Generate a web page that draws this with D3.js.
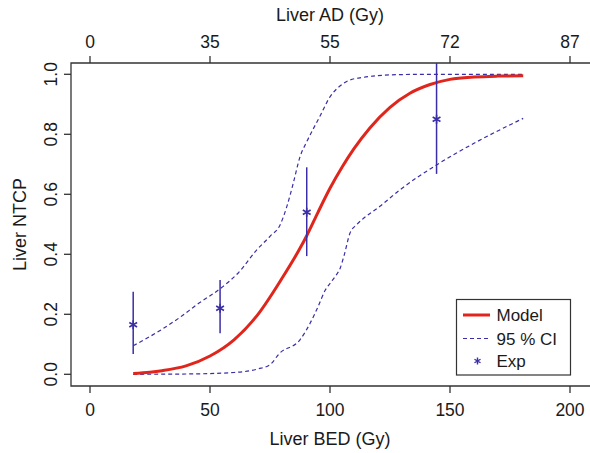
<!DOCTYPE html>
<html>
<head>
<meta charset="utf-8">
<script src="https://cdn.jsdelivr.net/npm/d3@7"></script>
<style>
  body { margin: 0; background: #fff; }
  text { font-family: "Liberation Sans", Arial, Helvetica, sans-serif; fill: #1a1a1a; }
</style>
</head>
<body>
<div id="chart"></div>
<script>
// model NTCP curve
const modelBED = [18, 25, 30, 40, 50, 60, 70, 80, 87.5, 90.3, 95, 100, 105, 110, 116.7, 125, 133.3, 141.7, 150, 160, 170, 180.5];
const modelNTCP = [0.003, 0.007, 0.012, 0.028, 0.061, 0.115, 0.2, 0.32, 0.42, 0.462, 0.54, 0.62, 0.69, 0.752, 0.822, 0.89, 0.937, 0.966, 0.983, 0.991, 0.994, 0.995];

// 95% CI bounds
const upperBED = [18, 30, 37.5, 45, 55, 62, 69.4, 75, 79.2, 82, 84.7, 87.5, 90.3, 95.8, 100, 104, 108, 114, 125, 140, 180.5];
const upperNTCP = [0.095, 0.15, 0.19, 0.235, 0.29, 0.34, 0.414, 0.46, 0.498, 0.559, 0.637, 0.725, 0.775, 0.86, 0.925, 0.96, 0.98, 0.99, 0.998, 1.0, 1.0];
const lowerBED = [18, 40, 60, 70, 75, 79, 87.5, 91.7, 95, 98, 100.7, 102.5, 104.2, 106, 108.3, 111, 114, 120.8, 129, 144.4, 160, 180.5];
const lowerNTCP = [0.0, 0.001, 0.006, 0.018, 0.032, 0.07, 0.115, 0.17, 0.225, 0.28, 0.31, 0.33, 0.353, 0.40, 0.47, 0.498, 0.52, 0.56, 0.614, 0.698, 0.77, 0.853];

// experimental points with error bars
const expBED = [18, 54.2, 90.3, 144.4];
const expNTCP = [0.165, 0.22, 0.54, 0.85];
const expLow = [0.068, 0.137, 0.394, 0.668];
const expHigh = [0.275, 0.314, 0.69, 1.05];

// axes
const bedTicks = [0, 50, 100, 150, 200];
const adLabels = ["0", "35", "55", "72", "87"];
const ntcpTicks = [0, 0.2, 0.4, 0.6, 0.8, 1.0];

const width = 590, height = 453;
const frame = {left: 71, top: 63, bottom: 386, right: 600};
const red = "#e0261c", blue = "#3a2ea6", axisCol = "#333";

const svg = d3.select("#chart").append("svg")
    .attr("width", width).attr("height", height);

const x = d3.scaleLinear().domain([0, 200]).range([90, 570]);
const y = d3.scaleLinear().domain([0, 1]).range([374.3, 74.3]);

svg.append("defs").append("clipPath").attr("id", "clip")
    .append("rect").attr("x", frame.left).attr("y", frame.top)
    .attr("width", frame.right - frame.left).attr("height", frame.bottom - frame.top);

// frame (open on the right, cut by the image)
svg.append("path")
    .attr("d", `M${frame.right},${frame.top}H${frame.left}V${frame.bottom}H${frame.right}`)
    .attr("fill", "none").attr("stroke", axisCol).attr("stroke-width", 1.3);

// bottom axis
const xb = svg.append("g");
bedTicks.forEach(t => {
    xb.append("line").attr("x1", x(t)).attr("x2", x(t)).attr("y1", frame.bottom).attr("y2", frame.bottom + 7)
        .attr("stroke", axisCol).attr("stroke-width", 1.3);
    xb.append("text").attr("x", x(t)).attr("y", 415.5).attr("text-anchor", "middle")
        .attr("font-size", 17.5).text(t);
});
svg.append("text").attr("x", x(100)).attr("y", 445).attr("text-anchor", "middle")
    .attr("font-size", 18).text("Liver BED (Gy)");

// top axis (AD labels at the BED tick positions)
const xt = svg.append("g");
bedTicks.forEach((t, i) => {
    xt.append("line").attr("x1", x(t)).attr("x2", x(t)).attr("y1", frame.top).attr("y2", frame.top - 7)
        .attr("stroke", axisCol).attr("stroke-width", 1.3);
    xt.append("text").attr("x", x(t)).attr("y", 48).attr("text-anchor", "middle")
        .attr("font-size", 17.5).text(adLabels[i]);
});
svg.append("text").attr("x", x(100)).attr("y", 21).attr("text-anchor", "middle")
    .attr("font-size", 18).text("Liver AD (Gy)");

// left axis
const yl = svg.append("g");
ntcpTicks.forEach(t => {
    yl.append("line").attr("x1", frame.left).attr("x2", frame.left - 7).attr("y1", y(t)).attr("y2", y(t))
        .attr("stroke", axisCol).attr("stroke-width", 1.3);
    yl.append("text").attr("transform", `translate(56.5,${y(t)}) rotate(-90)`)
        .attr("text-anchor", "middle").attr("font-size", 17.5).text(t.toFixed(1));
});
svg.append("text").attr("transform", `translate(26,${(frame.top + frame.bottom) / 2}) rotate(-90)`)
    .attr("text-anchor", "middle").attr("font-size", 18).text("Liver NTCP");

// curves
const plot = svg.append("g").attr("clip-path", "url(#clip)");
const line = d3.line().x(d => x(d[0])).y(d => y(d[1])).curve(d3.curveMonotoneX);

plot.append("path").datum(d3.zip(upperBED, upperNTCP)).attr("d", line)
    .attr("fill", "none").attr("stroke", blue).attr("stroke-width", 1.2).attr("stroke-dasharray", "4,3");
plot.append("path").datum(d3.zip(lowerBED, lowerNTCP)).attr("d", line)
    .attr("fill", "none").attr("stroke", blue).attr("stroke-width", 1.2).attr("stroke-dasharray", "4,3");
plot.append("path").datum(d3.zip(modelBED, modelNTCP)).attr("d", line)
    .attr("fill", "none").attr("stroke", red).attr("stroke-width", 3);

// error bars
plot.selectAll(".err").data(expBED).join("line").attr("class", "err")
    .attr("x1", d => x(d)).attr("x2", d => x(d))
    .attr("y1", (d, i) => y(expLow[i])).attr("y2", (d, i) => y(expHigh[i]))
    .attr("stroke", blue).attr("stroke-width", 1.5);

function star(cx, cy, r) {
    let p = "";
    for (let k = 0; k < 3; k++) {
        const a = Math.PI / 2 + k * Math.PI / 3;
        const dx = r * Math.cos(a), dy = r * Math.sin(a);
        p += `M${cx - dx},${cy - dy}L${cx + dx},${cy + dy}`;
    }
    return p;
}
plot.selectAll(".pt").data(expBED).join("path").attr("class", "pt")
    .attr("d", (d, i) => star(x(d), y(expNTCP[i]), 4.5))
    .attr("stroke", blue).attr("stroke-width", 1.6).attr("fill", "none");

// legend
const lg = svg.append("g");
lg.append("rect").attr("x", 456.5).attr("y", 299.5).attr("width", 114).attr("height", 75.5)
    .attr("fill", "#fff").attr("stroke", axisCol).attr("stroke-width", 1.2);
lg.append("line").attr("x1", 463).attr("x2", 490).attr("y1", 315).attr("y2", 315)
    .attr("stroke", red).attr("stroke-width", 3);
lg.append("line").attr("x1", 463).attr("x2", 490).attr("y1", 338.5).attr("y2", 338.5)
    .attr("stroke", blue).attr("stroke-width", 1.2).attr("stroke-dasharray", "4,3");
lg.append("path").attr("d", star(477.5, 361, 3.5))
    .attr("stroke", blue).attr("stroke-width", 1.4).attr("fill", "none");
[["Model", 315], ["95 % CI", 338.5], ["Exp", 361]].forEach(([t, yy]) => {
    lg.append("text").attr("x", 496.5).attr("y", yy + 6.3).attr("font-size", 17).text(t);
});
</script>
</body>
</html>
